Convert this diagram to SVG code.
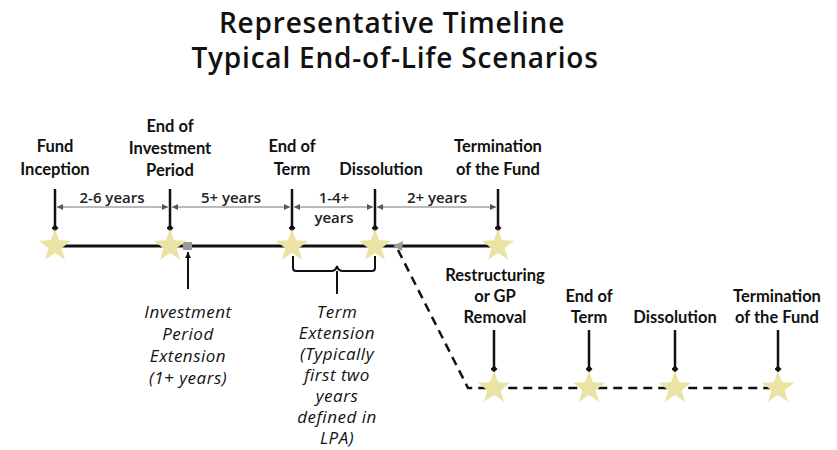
<svg xmlns="http://www.w3.org/2000/svg" width="837" height="450" viewBox="0 0 837 450">
<style>
.title{font-family:"Open Sans",Lato,sans-serif;font-weight:600;font-size:28px;letter-spacing:0.8px;fill:#111;text-anchor:middle}
.lbl{font-family:Lato,"Open Sans",sans-serif;font-weight:700;font-size:16.5px;fill:#111;text-anchor:middle}
.dim{font-family:"Open Sans",Lato,sans-serif;font-weight:600;font-size:15px;fill:#222;text-anchor:middle}
.ital{font-family:"Open Sans",Lato,sans-serif;font-style:italic;font-size:17px;letter-spacing:0.5px;fill:#111;text-anchor:middle}
.star{fill:#ebe3a3}
.main{stroke:#111;stroke-width:3;fill:none}
.ptr{stroke:#111;stroke-width:2.5;fill:none;marker-end:url(#dia)}
.dl{stroke:#777;stroke-width:1;fill:none;marker-start:url(#da);marker-end:url(#da)}
.dash{stroke:#111;stroke-width:2.5;fill:none;stroke-dasharray:9 6}
</style>
<defs>
<path id="star" d="M0,-17 L4.11,-5.66 L16.17,-5.25 L6.66,2.16 L9.99,13.75 L0,7 L-9.99,13.75 L-6.66,2.16 L-16.17,-5.25 L-4.11,-5.66 Z"/>
<marker id="dia" viewBox="0 0 8 8" refX="4" refY="4" markerWidth="7" markerHeight="7" markerUnits="userSpaceOnUse" orient="auto"><path d="M4,0 L8,4 L4,8 L0,4 Z" fill="#111"/></marker>
<marker id="da" viewBox="0 0 6 6" refX="6" refY="3" markerWidth="6" markerHeight="6" markerUnits="userSpaceOnUse" orient="auto-start-reverse"><path d="M0,0 L6,3 L0,6 Z" fill="#555"/></marker>
<marker id="up" viewBox="0 0 6 6" refX="6" refY="3" markerWidth="6" markerHeight="6" markerUnits="userSpaceOnUse" orient="auto"><path d="M0,0 L6,3 L0,6 Z" fill="#111"/></marker>
</defs>

<g id="title">
<text class="title" x="392" y="33">Representative Timeline</text>
<text class="title" x="395" y="68">Typical End-of-Life Scenarios</text>
</g>

<g id="connectors">
<line class="main" x1="55" y1="246" x2="498" y2="246"/>
<path class="dash" d="M398,250 L468,388 L775,388"/>
<line class="ptr" x1="55" y1="189" x2="55" y2="228"/>
<line class="ptr" x1="170" y1="189" x2="170" y2="228"/>
<line class="ptr" x1="292" y1="189" x2="292" y2="228"/>
<line class="ptr" x1="375" y1="189" x2="375" y2="228"/>
<line class="ptr" x1="498" y1="189" x2="498" y2="228"/>
<line class="dl" x1="57" y1="207" x2="168" y2="207"/>
<line class="dl" x1="172" y1="207" x2="290" y2="207"/>
<line class="dl" x1="294" y1="207" x2="373" y2="207"/>
<line class="dl" x1="377" y1="207" x2="496" y2="207"/>
<line class="ptr" x1="494" y1="330" x2="494" y2="369"/>
<line class="ptr" x1="589" y1="330" x2="589" y2="369"/>
<line class="ptr" x1="675" y1="330" x2="675" y2="369"/>
<line class="ptr" x1="778" y1="330" x2="778" y2="369"/>
<line x1="188" y1="289" x2="188" y2="252" stroke="#111" stroke-width="2" marker-end="url(#up)"/>
<path d="M293,256 L293,268 Q293,271 296,271 L331,271 Q336,271 337,266 Q338,271 343,271 L372,271 Q375,271 375,268 L375,256 M337,271 L337,294" stroke="#111" stroke-width="2" fill="none"/>
<rect x="183" y="242" width="9" height="8" fill="#999"/>
<path d="M393,246 L403,241 L402,251 Z" fill="#999"/>
</g>

<g id="dim-labels">
<text class="dim" x="112" y="203">2-6 years</text>
<text class="dim" x="231" y="203">5+ years</text>
<text class="dim" x="334" y="203">1-4+</text>
<text class="dim" x="334" y="223">years</text>
<text class="dim" x="437" y="203">2+ years</text>
</g>

<g id="fund-inception"><use href="#star" class="star" x="55" y="246"/>
<text class="lbl" x="55" y="152">Fund</text><text class="lbl" x="55" y="175">Inception</text></g>
<g id="end-investment"><use href="#star" class="star" x="170" y="246"/>
<text class="lbl" x="170" y="132">End of</text><text class="lbl" x="170" y="154">Investment</text><text class="lbl" x="170" y="176">Period</text></g>
<g id="end-term"><use href="#star" class="star" x="292" y="246"/>
<text class="lbl" x="292" y="152">End of</text><text class="lbl" x="292" y="175">Term</text></g>
<g id="dissolution"><use href="#star" class="star" x="375" y="246"/>
<text class="lbl" x="381" y="175">Dissolution</text></g>
<g id="termination"><use href="#star" class="star" x="498" y="246"/>
<text class="lbl" x="498" y="152">Termination</text><text class="lbl" x="498" y="175">of the Fund</text></g>

<g id="investment-extension">
<text class="ital" x="188" y="318">Investment</text><text class="ital" x="188" y="340">Period</text><text class="ital" x="188" y="362">Extension</text><text class="ital" x="188" y="384">(1+ years)</text></g>
<g id="term-extension">
<text class="ital" x="337" y="318">Term</text><text class="ital" x="337" y="339">Extension</text><text class="ital" x="337" y="360">(Typically</text><text class="ital" x="337" y="381">first two</text><text class="ital" x="337" y="402">years</text><text class="ital" x="337" y="423">defined in</text><text class="ital" x="337" y="444">LPA)</text></g>

<g id="restructuring"><use href="#star" class="star" x="494" y="388"/>
<text class="lbl" x="495" y="281">Restructuring</text><text class="lbl" x="495" y="302">or GP</text><text class="lbl" x="495" y="323">Removal</text></g>
<g id="end-term-2"><use href="#star" class="star" x="589" y="388"/>
<text class="lbl" x="589" y="302">End of</text><text class="lbl" x="589" y="323">Term</text></g>
<g id="dissolution-2"><use href="#star" class="star" x="675" y="388"/>
<text class="lbl" x="675" y="323">Dissolution</text></g>
<g id="termination-2"><use href="#star" class="star" x="778" y="388"/>
<text class="lbl" x="777" y="302">Termination</text><text class="lbl" x="777" y="323">of the Fund</text></g>
</svg>
